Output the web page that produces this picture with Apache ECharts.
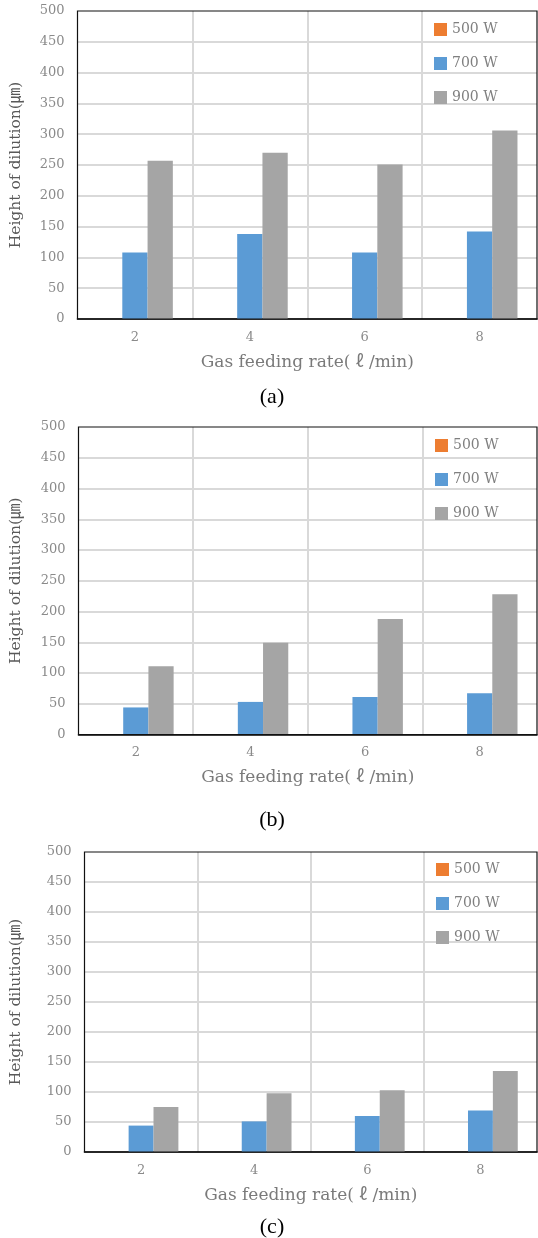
<!DOCTYPE html>
<html>
<head>
<meta charset="utf-8">
<script src="https://cdn.jsdelivr.net/npm/echarts@6/dist/echarts.min.js"></script>
<style>
html,body{margin:0;padding:0;background:#fff;}
#c{width:538px;height:1238px;}
</style>
</head>
<body>
<div id="c"></div>
<script>
const categories = ['2', '4', '6', '8'];
const seriesNames = ['500 W', '700 W', '900 W'];
const yTicks = [0, 50, 100, 150, 200, 250, 300, 350, 400, 450, 500];

const a500 = [0, 0, 0, 0];
const a700 = [108, 138, 108, 142];
const a900 = [257, 270, 251, 306];

const b500 = [0, 0, 0, 0];
const b700 = [44, 53, 61, 67];
const b900 = [111, 149, 188, 228];

const c500 = [0, 0, 0, 0];
const c700 = [44, 51, 60, 69];
const c900 = [75, 98, 103, 135];

const captions = ['(a)', '(b)', '(c)'];
const xTitle = 'Gas feeding rate( \u2113 /min)';
const yTitle = 'Height of dilution(\u339B)';

const colors = ['#ED7D31', '#5B9BD5', '#A5A5A5'];
const SERIF = '"DejaVu Serif", "Noto Sans CJK KR", serif';

const panels = [
  {data: [a500, a700, a900], grid: {left: 76, top: 11, width: 461, height: 308}, yGap: 54, legendTop: 22.5, legendLeft: 434, capTop: 386},
  {data: [b500, b700, b900], grid: {left: 78, top: 427, width: 459, height: 307.5}, yGap: 55, legendTop: 438.5, legendLeft: 435, capTop: 809},
  {data: [c500, c700, c900], grid: {left: 84, top: 852, width: 453, height: 300}, yGap: 61, legendTop: 862.5, legendLeft: 436, capTop: 1216}
];

const option = {
  animation: false,
  color: colors,
  grid: [], xAxis: [], yAxis: [], series: [], legend: [], title: []
};

panels.forEach((p, i) => {
  option.grid.push(Object.assign({show: true, borderColor: '#111', borderWidth: 1.2, backgroundColor: 'transparent', containLabel: false, z: 5}, p.grid));
  option.xAxis.push({
    type: 'category', gridIndex: i, data: categories,
    name: xTitle, nameLocation: 'middle', nameGap: 35,
    nameTextStyle: {fontFamily: SERIF, fontSize: 17, color: '#7a7a7a'},
    axisTick: {show: false},
    axisLine: {show: true, lineStyle: {color: '#000', width: 1.6}},
    axisLabel: {fontFamily: SERIF, fontSize: 13, color: '#8a8a8a', margin: 12},
    splitLine: {show: true, showMinLine: false, showMaxLine: false, lineStyle: {color: '#d9d9d9', width: 2}}
  });
  option.yAxis.push({
    type: 'value', gridIndex: i, min: yTicks[0], max: yTicks[yTicks.length - 1], interval: yTicks[1] - yTicks[0],
    name: yTitle, nameLocation: 'middle', nameGap: p.yGap, nameRotate: 90,
    nameTextStyle: {fontFamily: SERIF, fontSize: 15.5, color: '#595959'},
    axisLine: {show: false}, axisTick: {show: false},
    axisLabel: {fontFamily: SERIF, fontSize: 13, color: '#8a8a8a', margin: 13},
    splitLine: {show: true, showMinLine: false, showMaxLine: false, lineStyle: {color: '#d9d9d9', width: 2}}
  });
  seriesNames.forEach((n, k) => {
    option.series.push({
      type: 'bar', name: n, xAxisIndex: i, yAxisIndex: i,
      data: p.data[k], barGap: '0%', barCategoryGap: '34%',
      itemStyle: {color: colors[k]}, z: 3
    });
  });
  option.legend.push({
    orient: 'vertical', left: p.legendLeft, top: p.legendTop, padding: 0,
    data: seriesNames, icon: 'rect', itemWidth: 13, itemHeight: 13, itemGap: 20,
    textStyle: {fontFamily: SERIF, fontSize: 14, color: '#7f7f7f', lineHeight: 13},
    selectedMode: false
  });
  option.title.push({
    text: captions[i], left: 272, top: p.capTop, textAlign: 'center', padding: 0,
    textStyle: {fontFamily: '"Liberation Serif", serif', fontSize: 22, fontWeight: 'normal', color: '#000', lineHeight: 22}
  });
});

const chart = echarts.init(document.getElementById('c'), null, {renderer: 'canvas'});
chart.setOption(option);
</script>
</body>
</html>
